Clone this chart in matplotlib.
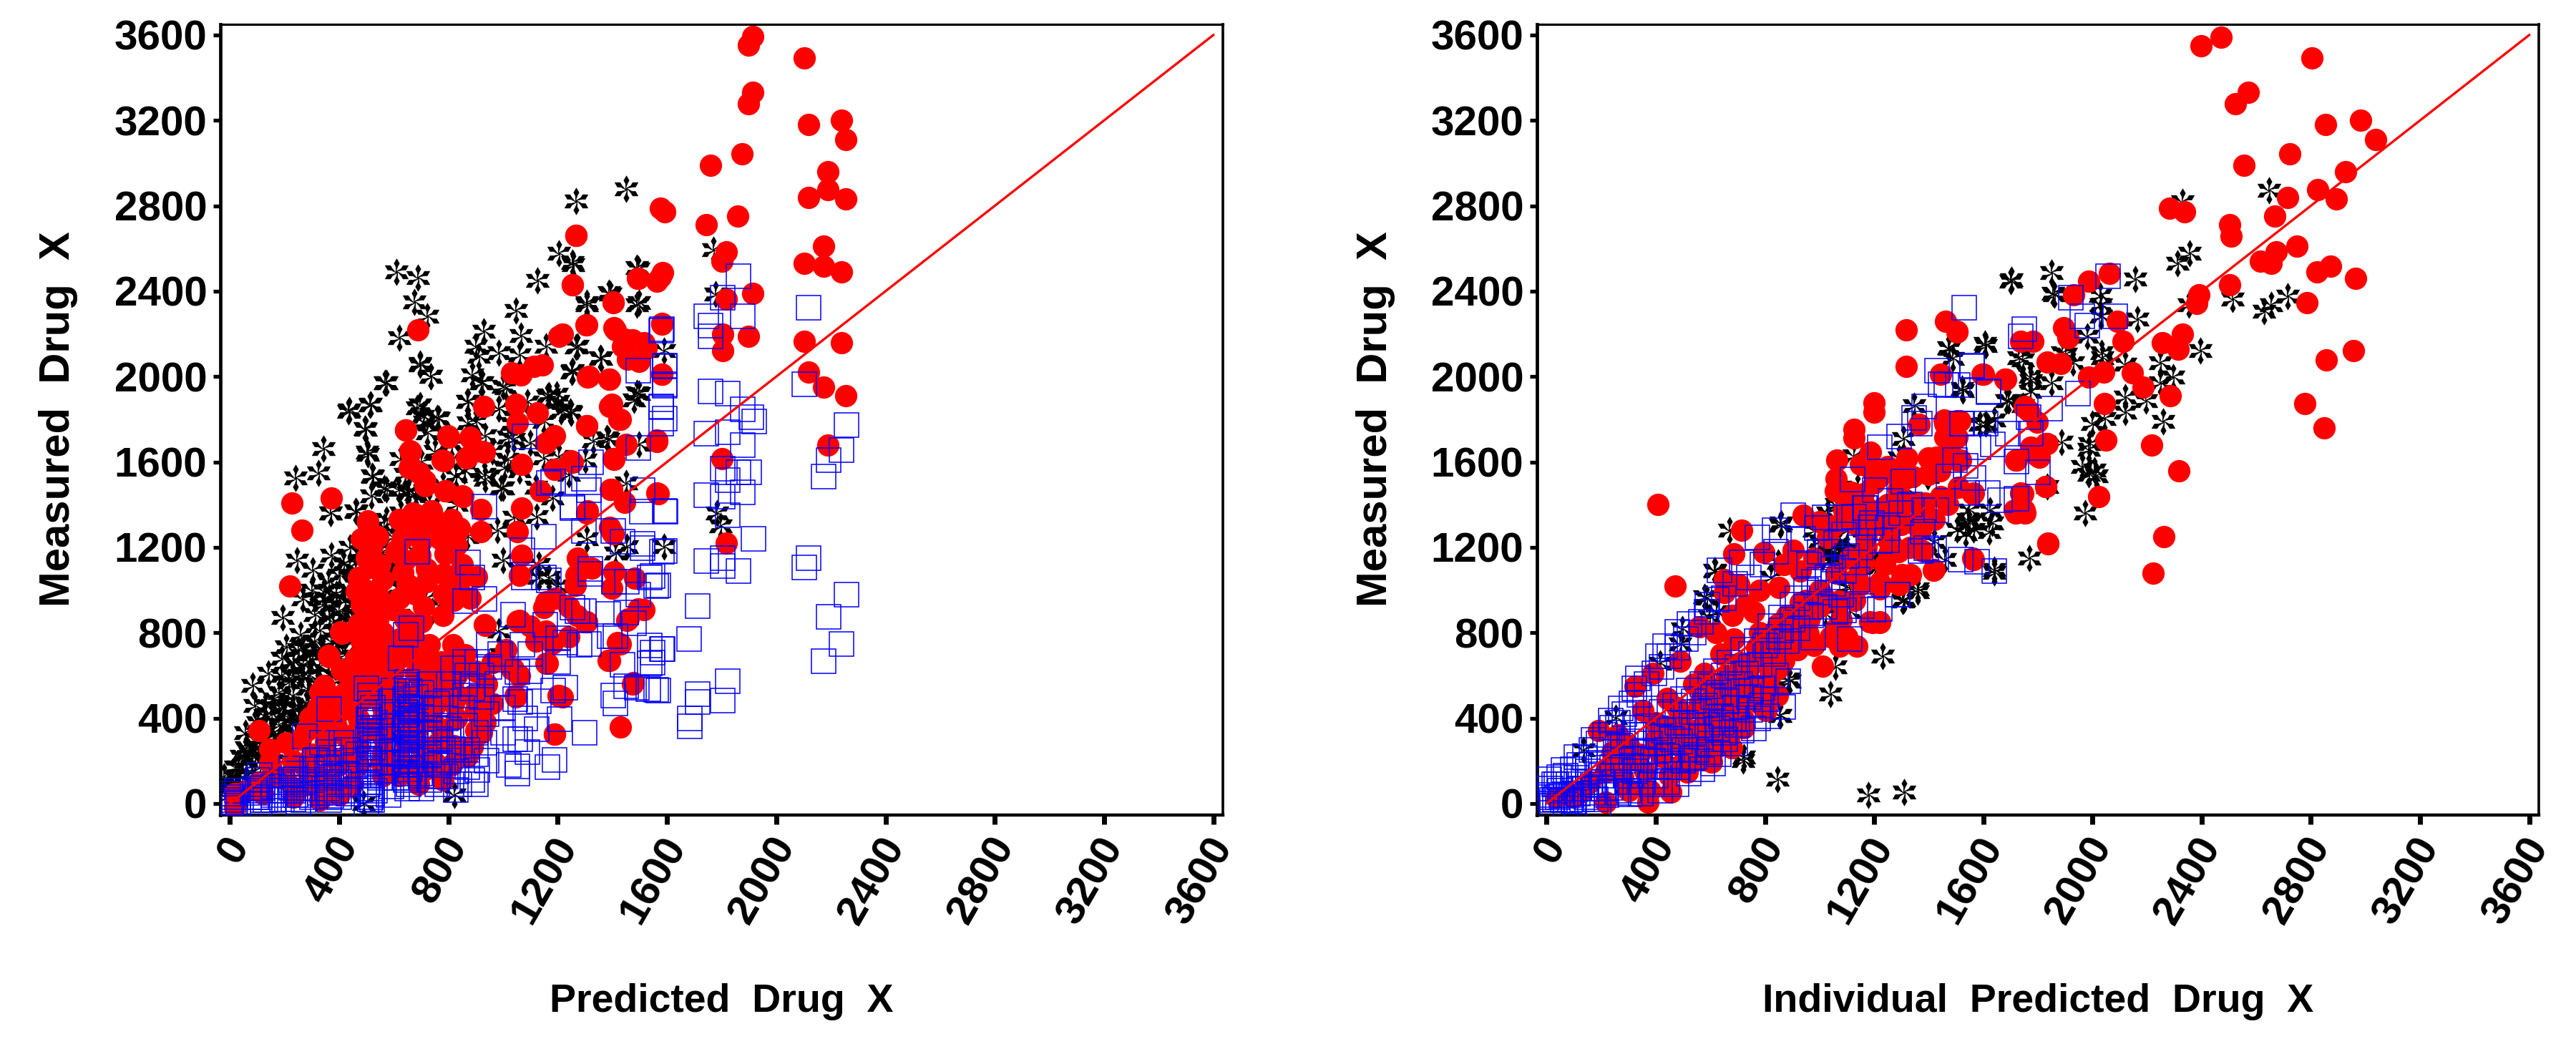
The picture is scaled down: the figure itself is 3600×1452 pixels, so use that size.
import matplotlib
matplotlib.use('Agg')
import matplotlib.pyplot as plt
import matplotlib.transforms as mtrans
from matplotlib.path import Path
import numpy as np

ticks = [0, 400, 800, 1200, 1600, 2000, 2400, 2800, 3200, 3600]
identity_line = [0, 3600]
left_xlabel = 'Predicted  Drug  X'
right_xlabel = 'Individual  Predicted  Drug  X'
ylabel = 'Measured  Drug  X'

# (predicted, measured)
left_black = [
(1449,2879),(1268,2821),(1203,2576),(1256,2524),(1489,2509),(609,2489),(688,2462),(1125,2449),(1387,2392),(1489,2337),
(1306,2337),(674,2348),(1046,2309),(722,2282),(930,2212),(1065,2192),(621,2181),(900,2142),(1271,2142),(985,2111),
(910,2095),(1061,2103),(1158,2142),(1357,2087),(695,2061),(1252,2020),(888,2009),(734,2002),(925,1970),(572,1970),
(1011,1947),(1196,1916),(1489,1924),(872,1884),(1161,1908),(515,1869),(433,1838),(685,1853),(707,1814),(1211,1838),
(760,1806),(985,1849),(1249,1830),(1384,1705),(497,1752),(722,1736),(872,1783),(933,1721),(342,1661),(504,1635),
(1038,1705),(1203,1627),(1015,1611),(324,1549),(241,1525),(624,1615),(857,1557),(933,1518),(1000,1479),(524,1533),
(564,1479),(519,1440),(654,1463),(459,1369),(369,1362),(368,1360),(464,1368),(245,1139),(302,1091),(372,1162),
(267,957),(193,870),(416,1123),(459,1091),(346,996),(389,981),(311,886),(363,870),(206,735),(258,791),
(311,759),(140,609),(84,553),(232,664),(293,664),(215,569),(92,458),(162,490),(232,506),(285,538),
(57,332),(127,411),(197,411),(250,443),(40,221),(-21,126),(92,221),(616,1471),(651,1455),(573,1471),
(520,1534),(573,1329),(625,1360),(616,1012),(608,1076),(590,1139),(564,1297),(712,1787),(695,1867),(765,1803),
(494,1756),(503,1645),(512,1867),(437,1843),(568,1969),(695,2056),(734,2001),(870,1882),(918,1969),(1000,1954),
(983,1851),(1018,1716),(1005,1574),(931,1542),(992,1479),(826,1534),(870,1250),(1001,1139),(983,807),(992,696),
(822,39),(634,696),(490,0),(682,648),(1123,1344),(1132,1060),(1167,1060),(1167,1914),(1202,1882),(1254,2025),
(1245,1835),(1253,2534),(1494,2505),(1306,2347),(1393,2385),(1498,2347),(1266,2138),(1358,2085),(1253,2026),(1590,2123),
(1498,1921),(1480,1891),(1249,1831),(1380,1711),(1498,1681),(1450,1502),(1306,1240),(1411,1173),(1454,1203),(1590,1203),
(1769,2594),(1777,2385),(1782,1360),(1795,1300),(300,1000),(340,930),(400,900),(420,820),(370,760),(330,810),
(270,730),(230,600),(290,600),(180,520),(130,460),(100,380),(160,330),(60,260),(20,170),(-10,70),
(250,720),(330,640),(190,680),(440,1000),(470,880),(480,780),(420,700),(120,300),(80,220),(30,110)]

left_black_dense = [
(360,1040),(400,1070),(440,1110),(480,1180),(520,1120),(540,1230),(600,1250),(640,1210),(420,950),(380,850),
(450,930),(500,960),(430,860),(410,780),(450,760),(340,720),(390,690),(440,640),(300,700),(270,650),
(360,610),(400,580),(430,540),(320,560),(260,600),(190,600),(230,450),(280,470),(330,480),(370,520),
(150,420),(190,450),(220,380),(260,400),(300,420),(180,370),(130,350),(90,300),(140,280),(190,300),
(240,340),(70,240),(110,250),(160,240),(30,170),(60,160),(110,170),(0,90),(30,60),(60,110),
(-15,30),(20,20),(320,360),(360,440),(400,480),(350,960),(440,1200),(500,1290),(560,1180),(600,1120),
(680,1450),(730,1400),(780,1490),(830,1400),(640,1540),(700,1600),(750,1650),(810,1680),(860,1650),(900,1790),
(960,1650),(1060,1560),(1120,1480),(1180,1430),(1240,1540),(1300,1610),(1100,1690),(1150,1790),(1090,1880),(1030,1780),
(980,1280),(1040,1340),(680,880),(720,960),(740,900),(640,1000),(1130,1120),(1200,1020),(1150,1620),(1330,1700)]

left_red = [
(1914,3594),(1899,3554),(2102,3492),(1914,3330),(1899,3278),(2117,3181),(2239,3200),(2254,3110),(1875,3042),(1759,2989),
(2188,2958),(2188,2877),(2117,2840),(2254,2831),(1576,2787),(1591,2772),(1858,2753),(1744,2710),(2173,2610),(1816,2585),
(1801,2539),(2102,2530),(2173,2517),(2239,2489),(1583,2486),(1564,2446),(1914,2390),(1816,2362),(1580,2244),(1899,2188),
(1804,2197),(1804,2120),(2102,2166),(2239,2160),(1516,2157),(2117,2021),(2173,1949),(2254,1909),(1580,2011),(1564,1701),
(2188,1679),(1801,1614),(1564,1453),(1816,1220),(1516,909),(1268,2660),(1255,2429),(1492,2460),(1403,2350),(1304,2243),
(1406,2228),(689,2220),(1203,2189),(1474,2173),(1437,2142),(1456,2080),(1143,2056),(1113,2048),(1065,2009),(1030,2017),
(1313,2002),(1388,1989),(930,1861),(1046,1869),(1125,1830),(1399,1869),(1429,1799),(1053,1783),(1306,1771),(644,1749),
(797,1721),(880,1713),(1188,1721),(1158,1689),(925,1650),(662,1650),(865,1619),(778,1608),(1406,1611),(1068,1588),
(1249,1604),(1188,1565),(657,1572),(692,1549),(715,1487),(226,1408),(372,1432),(790,1463),(850,1440),(1136,1463),
(1399,1471),(1068,1385),(1309,1369),(918,1377),(737,1369),(669,1362),(504,1323),(263,1281),(504,1312),(654,1304),
(782,1304),(918,1273),(1053,1273),(692,1163),(519,1194),(609,1187),(1399,1273),(1271,1148),(1324,1101),(1406,1085),
(1399,1007),(1482,1054),(218,1019),(903,1061),(1068,1163),(1060,1069),(1264,1022),(1158,944),(1060,858),(1158,795),
(1301,850),(933,835),(1459,866),(1429,748),(1391,670),(1030,631),(1158,655),(1474,561),(1203,506),(1046,498),
(1188,326),(1429,357),(933,381),(888,263),(406,803),(361,694),(421,615),(346,553),(643,1748),(800,1716),
(878,1716),(782,1605),(870,1621),(931,1645),(660,1653),(660,1582),(713,1511),(787,1463),(852,1439),(686,1352),
(739,1368),(643,1313),(795,1281),(608,1178),(695,1162),(787,1170),(516,1194),(512,1107),(634,1083),(782,1075),
(464,996),(538,996),(678,981),(782,981),(597,909),(503,901),(411,799),(512,807),(512,696),(363,688),
(407,625),(503,601),(328,522),(424,522),(512,506),(293,403),(381,411),(106,340),(206,285),(145,253),
(258,300),(145,190),(18,47),(18,-16),(328,16),(450,95),(660,822),(730,743),(817,743),(774,664),
(931,838),(1036,633),(913,403),(887,269),(922,332),(1044,506),(1202,506),(1162,656),(1188,324),(1053,854),
(1158,807),(1149,917),(555,506),(640,506),(730,506),(686,348),(599,348),(512,348),(424,316),(363,221),
(293,158),(206,110),(119,47),(232,31),(442,79),(555,190),(712,158),(774,348),(817,538),(887,506),
(861,696),(1389,1292),(1402,1262),(1494,911),(1306,851),(1454,858),(1419,754),(1384,671),(1476,566),(1266,1068),
(1218,499),(1393,1472),(1446,1412),(1568,1450),(1306,1360),(1253,1599),(1402,1614),(1450,1681),(1563,1696),(1306,1771),
(1424,1801),(1389,1861),(1310,1996),(1389,1988),(1581,2011),(1498,2071),(1524,2130),(1446,2175),(1411,2220),(1581,2250),
(1306,2243),(1218,2198),(1402,2347),(1494,2460),(1576,2467),(1253,2430),(1266,2662)]

left_red_dense = [
(480,1240),(540,1250),(500,1150),(550,1120),(470,1060),(560,1050),(500,1000),(550,950),(480,930),(540,860),
(470,840),(560,800),(480,760),(550,730),(460,680),(550,660),(470,610),(560,600),(460,540),(560,540),
(470,470),(560,450),(470,400),(560,400),(460,330),(560,310),(470,260),(560,240),(470,180),(560,130),
(620,1330),(690,1290),(750,1310),(810,1330),(630,1240),(700,1230),(770,1240),(840,1290),(640,1140),(720,1100),
(830,1210),(850,1120),(650,1030),(720,1040),(840,1040),(620,960),(710,920),(820,950),(880,960),(640,860),
(700,850),(780,880),(620,770),(680,760),(600,700),(660,690),(730,680),(830,660),(600,620),(680,610),
(760,610),(830,600),(900,620),(620,540),(700,560),(770,530),(940,560),(610,460),(680,440),(750,460),
(820,470),(900,440),(960,470),(620,390),(740,390),(830,400),(900,340),(640,290),(700,260),(760,280),
(820,270),(870,220),(620,210),(680,180),(750,190),(810,180),(620,130),(690,90),(780,110),(390,500),
(320,450),(400,430),(440,460),(280,340),(340,350),(390,360),(430,230),(300,230),(350,290),(400,180),
(230,200),(280,160),(330,130),(370,100),(170,130),(110,100),(60,60),(250,70),(310,80),(400,40),
(960,660),(1010,720),(1060,600),(1100,830),(1120,760),(1180,750),(1240,780),(1270,880),(1190,960),(1240,920)]

left_blue = [
(1861,2471),(2119,2322),(1804,2368),(1744,2281),(1877,2281),(1759,2238),(1759,2188),(1580,2222),(1591,2048),(1591,1965),
(2102,1965),(1759,1930),(1821,1921),(1579,1856),(1579,1778),(1591,1803),(1877,1847),(1919,1788),(1910,1809),(1744,1732),
(1821,1741),(1877,1679),(2257,1772),(2239,1654),(2191,1608),(2173,1530),(1804,1567),(1821,1515),(1861,1552),(1902,1552),
(1877,1459),(1744,1443),(1804,1437),(1821,1350),(1592,1369),(1917,1241),(1591,1182),(1744,1136),(1804,1148),(1804,1111),
(1861,1089),(2119,1148),(2102,1105),(2256,978),(2191,875),(2239,748),(2173,667),(1713,925),(1680,769),(1583,723),
(1821,574),(1713,512),(1713,475),(1804,484),(1684,397),(1684,360),(1546,708),(1561,531),(1546,661),(1561,1018),
(1546,1065),(1531,537),(1579,2217),(1495,2029),(1591,2050),(1591,1958),(1579,1861),(1495,1667),(1322,1599),(1297,1520),
(1315,1469),(1253,1390),(1315,1390),(1511,1467),(1509,1367),(1594,1367),(1297,1277),(1404,1277),(1437,1225),(1511,1218),
(1511,1195),(1581,1180),(1319,1098),(1319,1075),(1537,1060),(1568,1023),(1454,1038),(1406,1038),(1494,978),(1271,903),
(1297,903),(1384,888),(1450,896),(1480,843),(1227,754),(1315,746),(1411,784),(1389,784),(1537,739),(1581,724),
(1537,656),(1437,649),(1450,551),(1568,529),(1402,507),(1489,544),(1411,469),(1201,664),(1227,544),(1078,1719),
(685,1181),(931,1392),(872,1128),(887,1060),(931,957),(861,949),(1168,1503),(1182,1507),(1254,1384),(1071,1186),
(1149,1249),(1075,1060),(1149,1060),(1167,1044),(1036,886),(1071,743),(1154,838),(1202,775),(1280,743),(1254,917),
(664,822),(643,791),(625,680),(861,664),(905,664),(948,743),(817,633),(870,601),(922,601),(1053,617),
(1062,474),(1184,530),(1044,490),(1206,395),(1298,332),(1062,300),(1044,300),(1053,142),(1053,174),(1162,171),
(1188,205),(1123,348),(931,285),(905,158),(887,110),(826,63),(791,126),(817,253),(861,506),(887,538),
(861,364),(800,348),(765,126),(695,142),(643,110),(590,79),(520,47),(520,16),(433,47),(363,16),
(250,0),(190,20),(110,134),(97,31),(274,316),(223,110),(232,20),(363,443),(337,285),(407,285),
(311,205),(363,142),(5,16),(5,-10),(5,30),(25,60),(110,0),(110,30),(110,60),(110,90),(130,15),(90,70),
(160,40),(160,80),(200,60),(232,60),(232,90),(232,140),(255,40),(255,75),(300,30),(300,70),
(300,110),(300,160),(320,200),(363,50),(363,90),(363,190),(363,240),(390,60),(390,130),(430,90),
(430,140),(430,200),(430,250),(500,-15),(512,20),(512,70),(512,100),(512,130),(512,160),(512,200),
(512,240),(512,280),(512,320),(512,350),(512,390),(512,430),(512,470),(512,506),(500,540),(530,60),
(530,190),(530,290),(530,380),(470,130),(470,230),(580,40),(580,190),(580,300),(580,430),(600,530),
(610,120),(620,230),(650,70),(650,140),(650,180),(650,220),(650,260),(650,300),(650,340),(650,370),
(650,400),(650,430),(650,470),(650,510),(650,540),(650,570),(665,200),(665,320),(665,440),(640,250),
(640,380),(700,70),(700,200),(700,280),(700,400),(700,520),(730,110),(730,230),(730,330),(730,440),
(730,560),(760,90),(770,190),(770,300),(790,400),(790,480),(800,560),(830,150),(840,250),(850,450),
(860,560),(900,230),(920,500)]

left_blue_dense = [
(515,30),(505,90),(520,150),(508,210),(522,260),(505,300),(520,340),(508,410),(522,450),(655,90),
(640,120),(660,160),(640,195),(658,240),(645,280),(660,330),(642,350),(658,390),(645,415),(660,450),
(642,490),(658,525),(645,555),(700,130),(700,330),(700,450),(680,230),(680,370),(680,500),(372,35),
(355,70),(372,120),(355,165),(372,215),(240,40),(225,75),(240,115),(225,165),(120,15),(100,50),
(120,75),(100,110),(15,-20),(30,0),(-5,45),(0,5),(160,15),(190,60),(190,100),(270,15),(270,100),
(330,50),(330,140),(400,30),(400,100),(460,60),(460,180),(550,120),(550,240),(550,340),(590,240),
(590,360),(590,480),(760,180),(760,250),(760,350),(760,470),(800,200),(800,290),(840,90),(840,330),
(870,170),(870,250),(900,90),(900,330),(940,200),(940,420),(980,560),(1000,450),(1000,330),(1020,180),
(1090,240),(1080,400),(1100,620),(1130,480),(1100,700),(950,640),(990,700)]

# (individual predicted, measured)
right_black = [
(1310,52),(1179,40),(845,115),(1231,689),(1040,514),(720,201),(886,584),(855,412),(1058,639),(622,271),
(1359,991),(1307,952),(1216,1108),(585,960),(615,1093),(855,1304),(2646,2874),(2330,2818),(2356,2579),(2311,2530),
(2514,2362),(2714,2377),(2628,2306),(2654,2337),(2353,2337),(1702,2452),(1849,2486),(2157,2458),(1861,2384),(2030,2337),
(2030,2281),(2165,2269),(1609,2145),(1473,2135),(2394,2120),(1729,2089),(1902,2104),(2037,2089),(2120,2058),(2248,2064),
(2296,1996),(2248,1971),(1774,1980),(1849,1971),(2120,1903),(2120,1834),(2195,1887),(2258,1791),(2045,1803),(1999,1778),
(1684,1887),(1526,1934),(1609,1778),(1887,1692),(1985,1660),(1962,1577),(2015,1536),(1972,1359),(1769,1148),(1548,1375),
(1503,1282),(1563,1282),(1631,1313),(1548,1313),(1639,1096),(1624,1375),(1834,1483),(1458,1142),(1701,2446),(1854,2390),
(2028,2379),(1980,2189),(1889,2111),(2033,2111),(1605,2156),(1474,2133),(1487,2083),(1745,2078),(1771,2000),(1928,2066),
(1347,1865),(1522,1943),(1640,1798),(1587,1776),(1692,1888),(1989,1686),(1985,1541),(2007,1563),(1640,1083),(1544,1329),
(1535,1262),(1622,1273),(1308,1709),(1291,1619),(1125,1630),(1395,1530),(1063,1329),(1090,1184),(1177,1150),(1203,1105),
(1360,1005),(1304,949),(1098,1016),(1421,1228),(1771,1932),(1745,1865),(1030,1360),(1075,1187),(1012,1152),(849,1129),
(822,1060),(596,875),(624,898),(578,967),(619,1089),(497,817),(488,748),(416,655),(723,216),(854,412),
(890,574),(1111,898),(1021,886),(1310,956),(1211,1106),(1111,1013),(858,1314),(669,1279),(253,401),(136,250),
(605,320),(506,216),(289,77),(434,227),(1040,1140),(1060,1170),(1080,1130),(1100,1180),(1120,1150),(1050,1200),
(1000,1230),(980,1280),(1100,1280),(1180,1300),(1230,1350),(1190,1400),(1280,1400),(1320,1470),(1060,1400),(1140,1480)]

right_red = [
(2470,3588),(2398,3551),(2803,3492),(2571,3330),(2523,3278),(2854,3181),(2983,3200),(3037,3110),(2723,3042),(2556,2989),
(2928,2958),(2824,2877),(2714,2840),(2894,2831),(2282,2787),(2338,2772),(2667,2753),(2502,2710),(2509,2657),(2750,2610),
(2673,2585),(2616,2539),(2654,2530),(2872,2517),(2822,2489),(2964,2461),(2503,2430),(2391,2384),(2383,2343),(2785,2346),
(2330,2197),(2255,2160),(2315,2129),(2857,2079),(2955,2120),(2285,1909),(2777,1872),(2848,1760),(2216,1679),(2317,1558),
(2261,1251),(2221,1080),(1985,2446),(2063,2483),(1932,2384),(1894,2229),(1909,2182),(2090,2260),(2112,2166),(1834,2067),
(1884,2061),(1985,1996),(2042,2021),(2145,2017),(2185,1949),(2045,1872),(2048,1701),(2022,1437),(1837,1220),(1721,1608),
(1834,1685),(1774,1670),(1830,1483),(1781,2166),(1736,2166),(1751,1856),(1766,1840),(1601,2011),(1681,1989),(1461,2260),
(1503,2213),(1443,2011),(1503,1794),(1458,1778),(1458,1716),(1503,1716),(1518,1608),(1428,1623),(1563,1453),(1443,1437),
(1714,1375),(1751,1375),(1736,1453),(1563,1142),(1420,1095),(1804,1623),(1317,2219),(1317,2047),(1504,2208),(1596,2010),
(1679,1988),(1201,1876),(1201,1832),(1125,1753),(1125,1714),(1365,1776),(1186,1647),(1186,1569),(1456,1798),(1513,1793),
(1474,1709),(1400,1619),(1504,1608),(1063,1608),(1282,1541),(1718,1608),(1797,1630),(1828,1686),(1753,1860),(1797,1787),
(1561,1452),(1745,1452),(1828,1485),(1059,1463),(1116,1457),(1177,1385),(1256,1306),(1299,1396),(1299,1306),(1387,1407),
(1395,1329),(1352,1306),(1256,1228),(1256,1172),(1378,1184),(1417,1094),(1334,1072),(1291,1027),(1221,1005),(1151,1027),
(1072,949),(1194,848),(1221,848),(1561,1150),(1836,1217),(1718,1362),(1753,1362),(1090,1373),(1142,1329),(470,1019),
(407,1401),(714,1279),(687,1169),(651,1048),(651,990),(795,1175),(1012,643),(1075,736),(1138,736),(1184,852),
(1220,852),(958,794),(895,736),(845,505),(813,539),(723,354),(678,262),(605,193),(515,146),(456,54),
(371,8),(217,8),(190,343),(325,551),(389,609),(560,828),(705,1025),(1120,1314),(1030,1245),(940,1349),
(1301,1326),(1265,1210),(1138,1060),(1220,1036),(1301,1071),(904,1187),(850,1013),(759,898),(849,840),(687,771),
(804,724),(849,632),(578,609),(488,667),(669,435),(578,378),(488,320),(398,262),(307,204),(217,146),
(127,54),(36,31),(533,262),(443,493),(353,435),(262,320),(578,204),(714,609),(804,435),(950,950),
(1000,920),(1060,820),(930,850),(780,800),(750,650),(640,700),(540,560),(640,540),(720,480),(480,450),
(400,380),(300,270),(240,240)]

right_red_dense = [
(100,30),(160,100),(230,170),(280,120),(340,230),(300,60),(400,300),(360,150),(450,360),(420,220),
(380,60),(500,420),(480,280),(450,130),(560,470),(530,340),(500,190),(610,540),(580,420),(550,270),
(660,600),(630,470),(600,320),(710,660),(690,530),(650,380),(620,260),(770,730),(740,580),(700,450),
(670,320),(830,800),(800,660),(760,520),(720,400),(880,880),(850,740),(820,600),(780,470),(930,940),
(900,800),(870,670),(1000,1000),(960,860),(920,720),(1060,1080),(1020,960),(980,740),(1110,1150),(1080,860),
(1040,780),(1170,1200),(1130,950),(1100,780),(980,1150),(930,1090),(870,1120),(780,1000),(730,930),(680,880),
(620,800),(1050,1300),(1000,1320),(1160,1130),(1240,1120),(1330,1200),(1290,1180),(1370,1280),(1350,1410),(1420,1330),
(1470,1400),(1510,1480),(1250,1400),(1170,1250),(1240,1300),(1120,1400),(1160,1450),(1200,1500),(1290,1470),(1340,1530),
(1250,1580),(1320,1620),(1400,1540),(1440,1560),(1480,1640),(1150,1590),(1220,1530),(1060,1520),(1080,1460),(1200,1340)]

right_blue = [
(2058,2471),(1530,2322),(1920,2368),(2082,2281),(1962,2281),(1982,2238),(1751,2222),(1736,2188),(1560,2048),(1947,1921),
(1619,1927),(1845,1850),(1766,1809),(1521,1778),(1609,1778),(1691,1732),(1774,1732),(1721,1601),(1496,1608),(1536,1583),
(1801,1552),(1473,1530),(1563,1524),(1541,1453),(1616,1453),(1661,1421),(1721,1428),(1518,1142),(1578,1133),(1639,1089),
(1428,1375),(1420,1189),(1443,1965),(1430,2027),(1465,1960),(1559,2050),(1506,1960),(1620,1930),(1382,1860),(1347,1807),
(1367,1781),(1291,1720),(1221,1670),(1120,1519),(1203,1468),(1308,1508),(1168,1385),(1260,1418),(1125,1345),(1186,1295),
(1247,1234),(1378,1273),(1382,1373),(1369,1184),(1391,1195),(1522,1781),(1583,1670),(1636,1681),(1286,977),(1155,926),
(1221,910),(1090,904),(633,1094),(714,1129),(773,1245),(836,1279),(904,1349),(624,956),(587,898),(524,840),
(479,805),(434,736),(407,690),(334,586),(321,539),(271,447),(235,389),(172,297),(109,216),(63,158),
(9,112),(-18,31),(27,89),(1057,898),(1197,909),(1287,979),(1111,771),(976,776),(886,574),(867,453),
(786,458),(642,378),(610,187),(542,216),(443,100),(307,42),(190,-27),(1166,1383),(1193,1314),(30,20),
(50,60),(60,15),(80,90),(90,40),(110,120),(120,70),(130,20),(150,150),(160,100),(170,50),
(190,190),(200,130),(210,70),(230,240),(240,170),(250,100),(270,270),(280,200),(290,130),(300,60),
(320,320),(330,240),(340,170),(350,100),(370,360),(380,280),(390,200),(400,130),(420,430),(430,340),
(440,250),(450,170),(470,460),(480,380),(490,290),(500,200),(520,530),(530,430),(540,340),(550,250),
(570,560),(580,460),(590,370),(600,280),(620,620),(630,520),(640,410),(650,330),(670,660),(680,560),
(690,450),(700,370),(720,720),(730,610),(740,500),(770,760),(780,650),(790,540),(820,830),(830,700),
(840,600),(860,870),(880,760),(900,930),(920,820),(950,1000),(970,880),(1000,1050),(1020,920),(1050,1100),
(1080,980),(1100,1160),(1140,1050),(10,40),(20,-10),(40,30),(70,-5),(100,10),(140,70),(180,20),
(220,40),(260,170),(310,210),(360,240),(410,310),(460,300),(510,380),(560,430),(610,500),(660,480),
(710,560),(750,530),(800,740),(850,780),(920,960),(980,1040),(1030,1060),(1040,1180),(1060,1220),(1000,1180),
(960,1120),(940,1240),(990,1290),(1020,1340),(1090,1260)]

right_blue_dense = [
(15,70),(35,90),(45,125),(70,130),(95,160),(120,180),(140,215),(165,250),(190,280),(215,320),
(240,355),(260,380),(285,420),(310,470),(340,510),(365,560),(395,610),(420,640),(450,690),(480,730),
(510,770),(540,800),(565,850),(590,930),(650,960),(690,1030),(740,1060),(790,1120),(840,1180),(20,15),
(55,35),(85,15),(115,45),(145,30),(175,90),(205,100),(235,75),(265,50),(295,100),(325,150),
(355,130),(385,90),(415,170),(445,220),(475,170),(505,250),(535,210),(565,310),(595,240),(625,350),
(655,300),(685,400),(715,340),(745,440),(775,400),(805,490),(345,45),(415,60),(475,90),(520,140),
(570,160),(630,230),(690,280),(760,350),(810,410),(280,280),(310,290),(350,320),(400,350),(450,420),
(500,490),(540,480),(600,550),(650,600),(700,640),(750,700),(810,760),(860,810),(900,860),(950,920),
(1000,990),(1050,1030),(1090,1090),(1130,1130),(1150,1200),(1220,1230),(1250,1290),(1300,1360),(1330,1400),(1080,1340)]


def asterisk_path():
    # six armed star with the thick blob near the tips
    verts = []
    for a in np.deg2rad(np.arange(90, 450, 60)):
        d = np.array([np.cos(a), np.sin(a)])
        n = np.array([-d[1], d[0]])
        verts += [d*0.06 + n*0.07, d*0.42 + n*0.07, d*0.66 + n*0.2, d*1.0, d*0.66 - n*0.2, d*0.42 - n*0.07]
    verts.append(verts[0])
    codes = [Path.MOVETO] + [Path.LINETO]*(len(verts)-2) + [Path.CLOSEPOLY]
    return Path(verts, codes)


plt.rcParams['font.family'] = ['Liberation Sans', 'DejaVu Sans']
plt.rcParams['font.weight'] = 'bold'
star = asterisk_path()

fig = plt.figure(figsize=(36, 14.52), dpi=100)
W, H = 3600.0, 1452.0
top, bottom = 34.0, 1139.0


def panel(x0, x1, black, red, blue, xlabel, ylab_x):
    ax = fig.add_axes([x0/W, 1-bottom/H, (x1-x0)/W, (bottom-top)/H])
    b = np.array(black)
    r = np.array(red)
    s = np.array(blue)
    ax.plot(b[:, 0], b[:, 1], ls='none', marker=star, ms=27, mfc='black', mec='black', mew=0.4, zorder=2)
    ax.plot(r[:, 0], r[:, 1], ls='none', marker='o', ms=22.5, mfc='#ff0000', mew=0, zorder=3)
    ax.plot(s[:, 0], s[:, 1], ls='none', marker='s', ms=24.5, mfc='none', mec='#0000ff', mew=1.1, zorder=4)
    ax.plot(identity_line, identity_line, color='#ff0000', lw=2.4, zorder=5)
    ax.set_xlim(-35, 3635)
    ax.set_ylim(-54, 3650)
    ax.set_xticks(ticks)
    ax.set_yticks(ticks)
    ax.set_xticklabels([str(t) for t in ticks], rotation=60, ha='right', va='center', rotation_mode='anchor')
    ax.tick_params(axis='x', length=9.5, width=5, labelsize=42, pad=16)
    ax.tick_params(axis='y', length=7.5, width=3.8, labelsize=42, pad=6)
    shift = mtrans.ScaledTranslation(14/100.0, 0, fig.dpi_scale_trans)
    for lab in ax.get_xticklabels():
        lab.set_transform(lab.get_transform() + shift)
    ax.spines['left'].set_linewidth(3.4)
    ax.spines['bottom'].set_linewidth(3.2)
    ax.spines['top'].set_linewidth(2.3)
    ax.spines['right'].set_linewidth(2.6)
    fig.text((x0+x1)/2/W, 1-1400/H, xlabel, ha='center', va='center', fontsize=40, fontweight='bold')
    fig.text(ylab_x/W, 1-586/H, ylabel, ha='center', va='center', rotation=90, fontsize=43, fontweight='bold')
    return ax


panel(308, 1709, left_black + left_black_dense, left_red + left_red_dense, left_blue + left_blue_dense, left_xlabel, 82)
panel(2148, 3548, right_black, right_red + right_red_dense, right_blue + right_blue_dense, right_xlabel, 1922)

plt.savefig('out.png', dpi=100)
